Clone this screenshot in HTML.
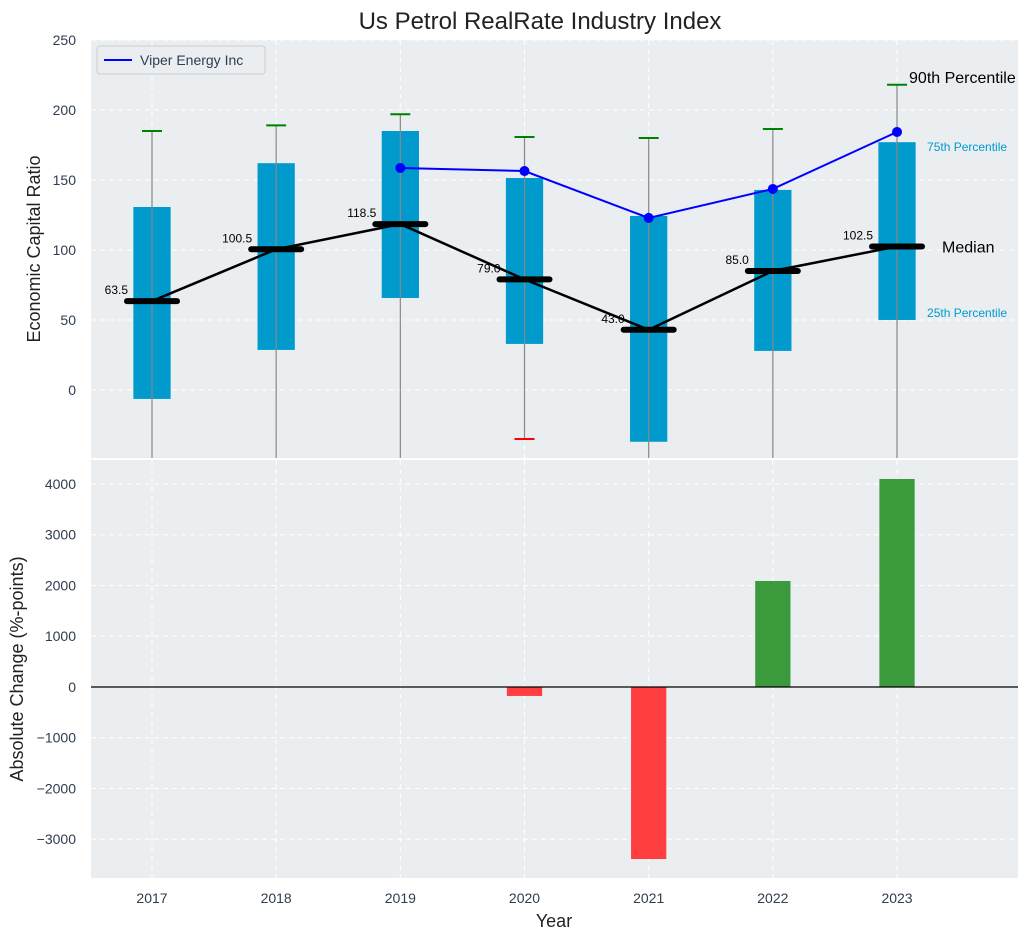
<!DOCTYPE html>
<html><head><meta charset="utf-8"><style>
body{margin:0;background:#fff;}
svg text{font-family:"Liberation Sans","DejaVu Sans",sans-serif;}
</style></head><body>
<svg id="chart" width="1030" height="940" xmlns="http://www.w3.org/2000/svg"></svg>
<script>
const years=["2017","2018","2019","2020","2021","2022","2023"];
const p25=[-6.4,28.6,65.7,32.9,-37,27.9,50];
const p75=[130.7,162,185,151.4,124.3,142.9,177];
const p90=[185,189,197,180.7,180,186.4,218];
const p10=[-60,-60,-60,-35,-60,-60,-60];
const medians=[63.5,100.5,118.5,79,43,85,102.5];
const viperYears=[2,3,4,5,6];
const viper=[158.6,156.4,122.9,143.6,184.3];
const changes=[0,0,0,-177,-3390,2089,4099];
const topTicks=[0,50,100,150,200,250];
const botTicks=[-3000,-2000,-1000,0,1000,2000,3000,4000];

const svg=document.getElementById('chart');
const NS='http://www.w3.org/2000/svg';
function mk(tag,attrs,parent){const e=document.createElementNS(NS,tag);for(const k in attrs)e.setAttribute(k,attrs[k]);(parent||svg).appendChild(e);return e;}
const L=91,R=1018;
const step=124.17;
const X=i=>152+i*step;
const T0=40,T1=458,Tmin=-48.6,Tmax=250;
const Y=v=>T1-(v-Tmin)/(Tmax-Tmin)*(T1-T0);
const B0=460,B1=878,Bmin=-3764,Bmax=4473;
const YB=v=>B1-(v-Bmin)/(Bmax-Bmin)*(B1-B0);
const bw=0.3*step;
const tc='#2e3d4f';

let e;
e=mk('rect',{x:L,y:T0,width:R-L,height:T1-T0,fill:'#eaeef0'});

e=mk('rect',{x:L,y:B0,width:R-L,height:B1-B0,fill:'#eaeef0'});


topTicks.forEach(t=>{const y=Y(t);
 e=mk('line',{x1:L,x2:R,y1:y,y2:y,stroke:'#fff','stroke-dasharray':'5,4'});
 
 e=mk('text',{x:76,y:y+5,'text-anchor':'end','font-size':14,fill:tc});e.textContent=t;
 });
botTicks.forEach(t=>{const y=YB(t);
 e=mk('line',{x1:L,x2:R,y1:y,y2:y,stroke:'#fff','stroke-dasharray':'5,4'});
 
 e=mk('text',{x:76,y:y+5,'text-anchor':'end','font-size':14,fill:tc});e.textContent=(t<0?'\u2212'+(-t):t);
 });
years.forEach((yr,i)=>{const x=X(i);
 e=mk('line',{x1:x,x2:x,y1:T0,y2:T1,stroke:'#fff','stroke-dasharray':'5,4'});
 
 e=mk('line',{x1:x,x2:x,y1:B0,y2:B1,stroke:'#fff','stroke-dasharray':'5,4'});
 
 e=mk('text',{x:x,y:903,'text-anchor':'middle','font-size':14,fill:tc});e.textContent=yr;
 });

years.forEach((yr,i)=>{const x=X(i);
 e=mk('rect',{x:x-bw/2,y:Y(p75[i]),width:bw,height:Y(p25[i])-Y(p75[i]),fill:'#009acd'});
 
 const lo=Math.max(p10[i],Tmin);
 e=mk('line',{x1:x,x2:x,y1:Y(p90[i]),y2:Y(lo),stroke:'#888','stroke-width':1.2});
 
 e=mk('line',{x1:x-10,x2:x+10,y1:Y(p90[i]),y2:Y(p90[i]),stroke:'green','stroke-width':2});
 
 if(p10[i]>Tmin){e=mk('line',{x1:x-10,x2:x+10,y1:Y(p10[i]),y2:Y(p10[i]),stroke:'red','stroke-width':2});
 }
});
e=mk('polyline',{points:medians.map((m,i)=>X(i)+','+Y(m)).join(' '),fill:'none',stroke:'#000','stroke-width':2.5});

medians.forEach((m,i)=>{const x=X(i);
 e=mk('line',{x1:x-25,x2:x+25,y1:Y(m),y2:Y(m),stroke:'#000','stroke-width':6,'stroke-linecap':'round'});
 
 e=mk('text',{x:x-24,y:Y(m)-7,'text-anchor':'end','font-size':12,fill:'#000'});e.textContent=m.toFixed(1);
 });
e=mk('polyline',{points:viper.map((v,j)=>X(viperYears[j])+','+Y(v)).join(' '),fill:'none',stroke:'blue','stroke-width':2});

viper.forEach((v,j)=>{e=mk('circle',{cx:X(viperYears[j]),cy:Y(v),r:5,fill:'blue'});
 });

const xl=X(6);
e=mk('text',{x:xl+12,y:Y(p90[6])-2,'font-size':16,fill:'#000'});e.textContent='90th Percentile';

e=mk('text',{x:xl+30,y:Y(p75[6])+9,'font-size':12,fill:'#009acd'});e.textContent='75th Percentile';

e=mk('text',{x:xl+45,y:Y(medians[6])+6,'font-size':16,fill:'#000'});e.textContent='Median';

e=mk('text',{x:xl+30,y:Y(p25[6])-3,'font-size':12,fill:'#009acd'});e.textContent='25th Percentile';


changes.forEach((c,i)=>{if(c===0)return;const x=X(i);
 e=mk('rect',{x:x-bw/2+1,y:Math.min(YB(c),YB(0)),width:bw-2,height:Math.abs(YB(c)-YB(0)),fill:c<0?'#ff3f3f':'#3a9a3c'});
 });
e=mk('line',{x1:L,x2:R,y1:YB(0),y2:YB(0),stroke:'#000','stroke-width':1.2});


const g=mk('g',{});
mk('rect',{x:97,y:46,width:168,height:28,rx:3,fill:'#eaeef0',stroke:'#ccc'},g);
mk('line',{x1:104,x2:132,y1:60,y2:60,stroke:'blue','stroke-width':2},g);
e=mk('text',{x:140,y:65,'font-size':14,fill:tc},g);e.textContent='Viper Energy Inc';

e=mk('text',{x:540,y:29,'text-anchor':'middle','font-size':24,fill:'#222'});e.textContent='Us Petrol RealRate Industry Index';

e=mk('text',{x:554,y:927,'text-anchor':'middle','font-size':18,fill:'#222'});e.textContent='Year';

e=mk('text',{x:0,y:0,'text-anchor':'middle','font-size':18,fill:'#222',transform:'translate(40,249) rotate(-90)'});e.textContent='Economic Capital Ratio';

e=mk('text',{x:0,y:0,'text-anchor':'middle','font-size':18,fill:'#222',transform:'translate(23,669) rotate(-90)'});e.textContent='Absolute Change (%-points)';

</script>
</body></html>
